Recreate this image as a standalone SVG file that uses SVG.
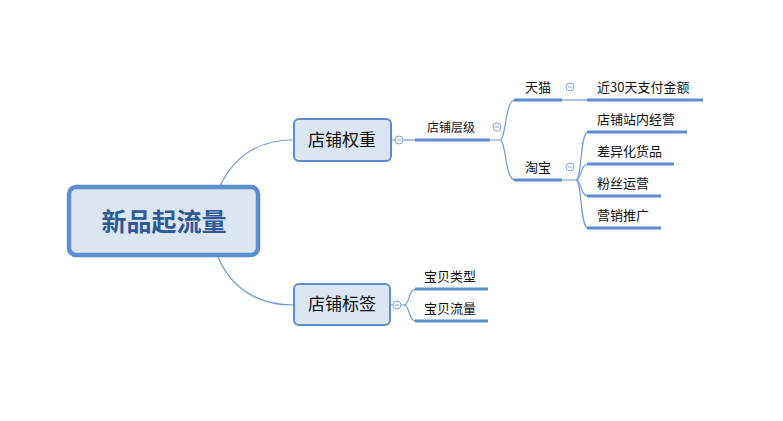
<svg xmlns="http://www.w3.org/2000/svg" width="783" height="421" viewBox="0 0 783 421">
<style>
.t{font-family:"Noto Sans CJK SC","Microsoft YaHei",sans-serif;fill:#111;}
.c{fill:none;stroke:#6f9bd6;stroke-width:1.2;}
.u{stroke:#5b8dd0;stroke-width:3;}
.k{fill:#fff;stroke:#7ea5da;stroke-width:1;}
.km{stroke:#7ea5da;stroke-width:1;}
.box{fill:#dce6f2;stroke:#5b8dd0;stroke-width:2;}
</style>
<rect width="783" height="421" fill="#fff"/>
<g id="connectors">
<path class="c" d="M220,186 C235,155 260,140 293,140"/>
<path class="c" d="M218,257 C232,290 260,305 293,305"/>
<line class="c" x1="392" y1="140" x2="415" y2="140"/>
<path class="c" d="M490,140 L500,140 C506,140 505,100 515,100"/>
<path class="c" d="M500,140 C506,140 505,180 515,180"/>
<line class="c" x1="562" y1="100" x2="587" y2="100"/>
<path class="c" d="M562,180 L576,180 C582,180 580,132 588,132"/>
<path class="c" d="M576,180 C582,180 580,164 588,164"/>
<path class="c" d="M576,180 C582,180 580,196 588,196"/>
<path class="c" d="M576,180 C582,180 580,228 588,228"/>
<path class="c" d="M390,305 L404,305 C410,305 408,289 416,289"/>
<path class="c" d="M404,305 C410,305 408,321 416,321"/>
</g>
<g id="root">
<rect x="69" y="187" width="189" height="68" rx="7" fill="#dce6f2" stroke="#5b8dd0" stroke-width="4.5"/>
<text x="164" y="231" text-anchor="middle" font-family="'Noto Sans CJK SC',sans-serif" font-weight="bold" font-size="25" fill="#2f5a93">新品起流量</text>
</g>
<g id="n-quanzhong">
<rect class="box" x="294" y="119" width="97" height="42" rx="5"/>
<text class="t" x="342" y="146" text-anchor="middle" font-size="17" fill="#1f2f45">店铺权重</text>
<circle class="k" cx="399" cy="140" r="4"/><line class="km" x1="397" y1="140" x2="401" y2="140"/>
</g>
<g id="n-biaoqian">
<rect class="box" x="294" y="284" width="96" height="41" rx="5"/>
<text class="t" x="342" y="310" text-anchor="middle" font-size="17">店铺标签</text>
<circle class="k" cx="397" cy="305" r="4"/><line class="km" x1="395" y1="305" x2="399" y2="305"/>
</g>
<g id="n-cengji">
<line class="u" x1="415" y1="140" x2="490" y2="140"/>
<text class="t" x="451" y="132" text-anchor="middle" font-size="12">店铺层级</text>
<circle class="k" cx="497" cy="127" r="4"/><line class="km" x1="495" y1="127" x2="499" y2="127"/>
</g>
<g id="n-tianmao">
<line class="u" x1="514" y1="100" x2="562" y2="100"/>
<text class="t" x="538" y="92" text-anchor="middle" font-size="13">天猫</text>
<circle class="k" cx="570" cy="87" r="4"/><line class="km" x1="568" y1="87" x2="572" y2="87"/>
</g>
<g id="n-taobao">
<line class="u" x1="514" y1="180" x2="562" y2="180"/>
<text class="t" x="538" y="172" text-anchor="middle" font-size="13">淘宝</text>
<circle class="k" cx="570" cy="167" r="4"/><line class="km" x1="568" y1="167" x2="572" y2="167"/>
</g>
<g id="n-jin30">
<line class="u" x1="587" y1="100" x2="703" y2="100"/>
<text class="t" x="597" y="92" font-size="13">近30天支付金额</text>
</g>
<g id="n-zhannei">
<line class="u" x1="587" y1="132" x2="687" y2="132"/>
<text class="t" x="597" y="124" font-size="13">店铺站内经营</text>
</g>
<g id="n-chayi">
<line class="u" x1="587" y1="164" x2="674" y2="164"/>
<text class="t" x="597" y="156" font-size="13">差异化货品</text>
</g>
<g id="n-fensi">
<line class="u" x1="587" y1="196" x2="661" y2="196"/>
<text class="t" x="597" y="188" font-size="13">粉丝运营</text>
</g>
<g id="n-yingxiao">
<line class="u" x1="587" y1="228" x2="661" y2="228"/>
<text class="t" x="597" y="220" font-size="13">营销推广</text>
</g>
<g id="n-leixing">
<line class="u" x1="415" y1="289" x2="488" y2="289"/>
<text class="t" x="424" y="281" font-size="13">宝贝类型</text>
</g>
<g id="n-liuliang">
<line class="u" x1="415" y1="321" x2="488" y2="321"/>
<text class="t" x="424" y="313" font-size="13">宝贝流量</text>
</g>
</svg>
